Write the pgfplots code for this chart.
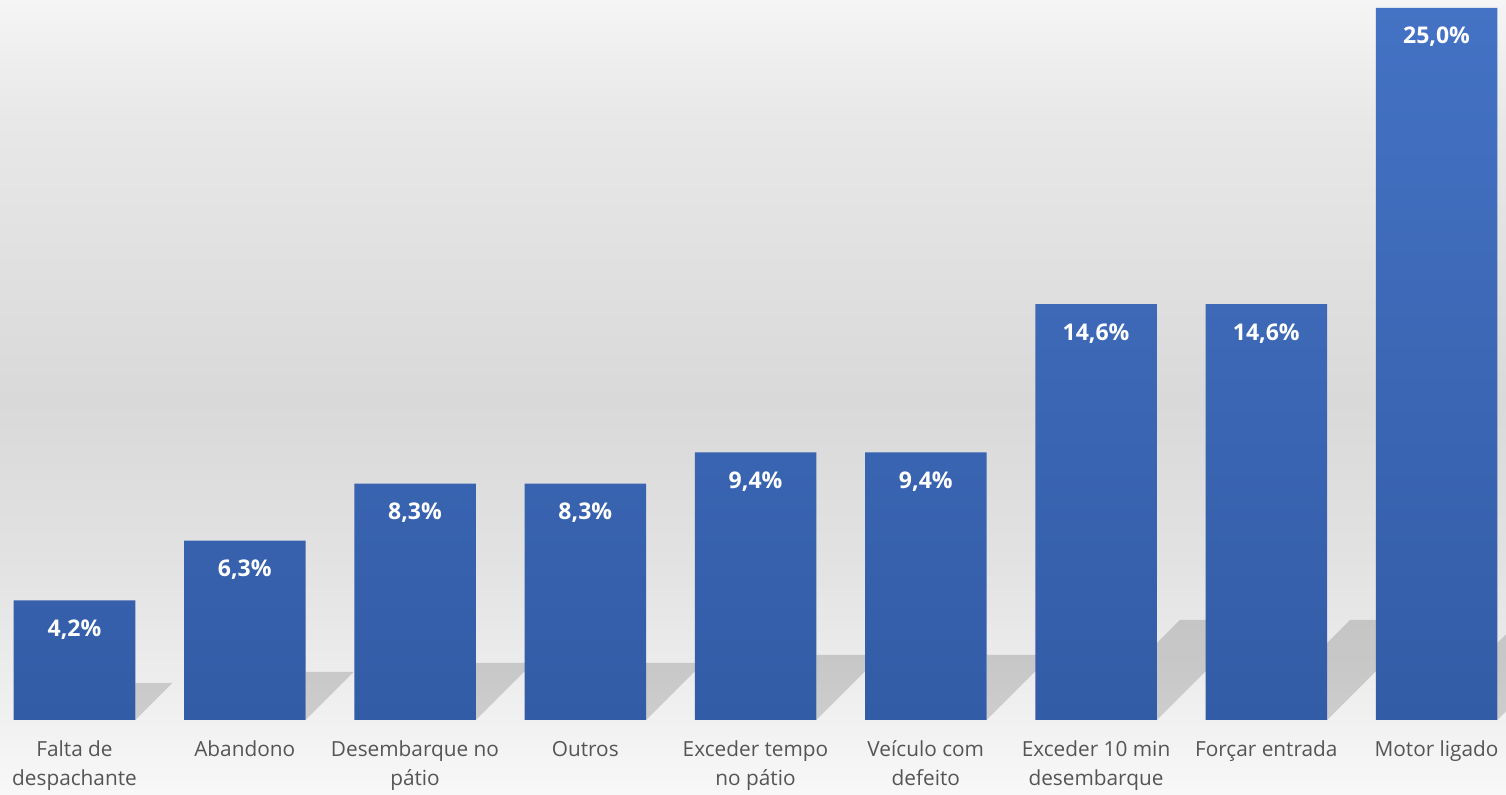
\documentclass[border=0pt]{standalone}
\usepackage{pgfplots}
\pgfplotsset{compat=1.18}
\usepackage{fontspec}
\setmainfont{Open Sans}
\usetikzlibrary{backgrounds}
\definecolor{barTop}{HTML}{4472C4}
\definecolor{barBot}{HTML}{335CA6}
\definecolor{lab}{HTML}{555555}
\definecolor{c0}{HTML}{F8F8F8}
\definecolor{c1}{HTML}{F1F1F1}
\definecolor{c2}{HTML}{E2E2E2}
\definecolor{c3}{HTML}{D9D9D9}
\definecolor{c4}{HTML}{E8E8E8}
\definecolor{c5}{HTML}{F5F5F5}
\pgfdeclareverticalshading{bgshade}{100bp}{color(0bp)=(c0); color(25bp)=(c0); color(29.7bp)=(c1); color(39.8bp)=(c2); color(49.8bp)=(c3); color(67.45bp)=(c4); color(75bp)=(c5); color(100bp)=(c5)}
\pgfplotsset{shadowstyle/.style={draw=none, fill=black, fill opacity=0.15, forget plot}}
\begin{document}
\begin{tikzpicture}
\begin{axis}[name=ax, scale only axis, width=753pt, height=360pt,
  xmin=-0.4376, xmax=8.408, ymin=0, ymax=25.28,
  axis line style={draw=none}, ytick=\empty, major tick length=0pt,
  xtick={0,1,2,3,4,5,6,7,8},
  xticklabels={Falta de\\despachante, Abandono, Desembarque no\\pátio, Outros, Exceder tempo\\no pátio, Veículo com\\defeito, Exceder 10 min\\desembarque, Forçar entrada, Motor ligado},
  xticklabel style={align=center, font=\fontsize{10.4}{14.5}\selectfont, text=lab, yshift=-7pt},
  /pgf/number format/.cd, fixed, fixed zerofill, precision=1, use comma, assume math mode=true]
\addplot[shadowstyle] coordinates {(0.3569,0) (0.3569,1.299) (0.5742,1.299) (0.3569,0)};
\addplot[shadowstyle] coordinates {(1.3569,0) (1.3569,1.685) (1.6388,1.685) (1.3569,0)};
\addplot[shadowstyle] coordinates {(2.3569,0) (2.3569,2.001) (2.6917,2.001) (2.3569,0)};
\addplot[shadowstyle] coordinates {(3.3569,0) (3.3569,2.001) (3.6917,2.001) (3.3569,0)};
\addplot[shadowstyle] coordinates {(4.3569,0) (4.3569,2.282) (4.7387,2.282) (4.3569,0)};
\addplot[shadowstyle] coordinates {(5.3569,0) (5.3569,2.282) (5.7387,2.282) (5.3569,0)};
\addplot[shadowstyle] coordinates {(6.3569,0) (6.3569,2.704) (6.4920,3.511) (6.9443,3.511) (6.3569,0)};
\addplot[shadowstyle] coordinates {(7.3569,0) (7.3569,2.704) (7.4920,3.511) (7.9443,3.511) (7.3569,0)};
\addplot[shadowstyle] coordinates {(8.3569,0) (8.3569,2.704) (8.8620,5.723) (9.3143,5.723) (8.3569,0)};
\addplot[ybar, bar width=0.7137, bar shift=0pt, draw=none, top color=barTop, bottom color=barBot,
  nodes near coords={\pgfmathprintnumber{\pgfplotspointmeta}\%},
  every node near coord/.append style={font=\bfseries\fontsize{11.5}{13}\selectfont, text=white, anchor=center, yshift=-14.5pt}]
  coordinates {(0,4.2) (1,6.3) (2,8.3) (3,8.3) (4,9.4) (5,9.4) (6,14.6) (7,14.6) (8,25.0)};
\end{axis}
\begin{scope}[on background layer]
\shade[shading=bgshade] ([yshift=-37.5pt]ax.south west) rectangle (ax.north east);
\end{scope}
\pgfresetboundingbox
\path ([yshift=-37.5pt]ax.south west) rectangle (ax.north east);
\end{tikzpicture}
\end{document}
